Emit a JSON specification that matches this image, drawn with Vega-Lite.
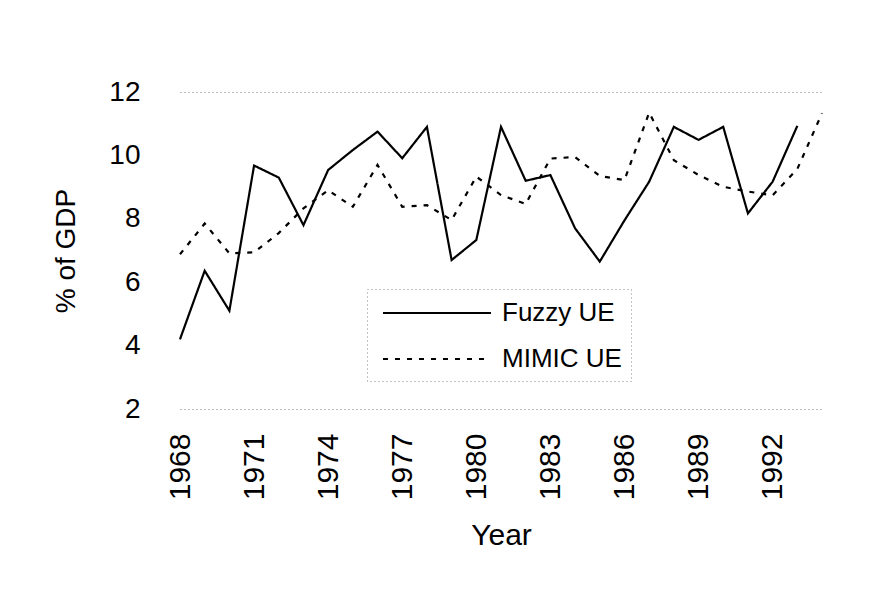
{
  "$schema": "https://vega.github.io/schema/vega-lite/v6.json",
  "width": 642,
  "height": 317,
  "autosize": {"type": "none"},
  "padding": {"left": 180, "top": 92, "right": 74, "bottom": 181},
  "background": "white",
  "config": {
    "view": {"stroke": null},
    "font": "Liberation Sans",
    "axis": {"labelColor": "black", "titleColor": "black", "titleFontWeight": "normal", "labelFont": "Liberation Sans", "titleFont": "Liberation Sans"}
  },
  "data": {
    "values": [
      {"year": 1968, "series": "Fuzzy UE", "value": 4.2},
      {"year": 1969, "series": "Fuzzy UE", "value": 6.36},
      {"year": 1970, "series": "Fuzzy UE", "value": 5.1},
      {"year": 1971, "series": "Fuzzy UE", "value": 9.68},
      {"year": 1972, "series": "Fuzzy UE", "value": 9.3},
      {"year": 1973, "series": "Fuzzy UE", "value": 7.8},
      {"year": 1974, "series": "Fuzzy UE", "value": 9.54},
      {"year": 1975, "series": "Fuzzy UE", "value": 10.17},
      {"year": 1976, "series": "Fuzzy UE", "value": 10.75},
      {"year": 1977, "series": "Fuzzy UE", "value": 9.91},
      {"year": 1978, "series": "Fuzzy UE", "value": 10.9},
      {"year": 1979, "series": "Fuzzy UE", "value": 6.7},
      {"year": 1980, "series": "Fuzzy UE", "value": 7.33},
      {"year": 1981, "series": "Fuzzy UE", "value": 10.9},
      {"year": 1982, "series": "Fuzzy UE", "value": 9.2},
      {"year": 1983, "series": "Fuzzy UE", "value": 9.38},
      {"year": 1984, "series": "Fuzzy UE", "value": 7.7},
      {"year": 1985, "series": "Fuzzy UE", "value": 6.65},
      {"year": 1986, "series": "Fuzzy UE", "value": 7.95},
      {"year": 1987, "series": "Fuzzy UE", "value": 9.17},
      {"year": 1988, "series": "Fuzzy UE", "value": 10.9},
      {"year": 1989, "series": "Fuzzy UE", "value": 10.49},
      {"year": 1990, "series": "Fuzzy UE", "value": 10.9},
      {"year": 1991, "series": "Fuzzy UE", "value": 8.17},
      {"year": 1992, "series": "Fuzzy UE", "value": 9.17},
      {"year": 1993, "series": "Fuzzy UE", "value": 10.93},
      {"year": 1968, "series": "MIMIC UE", "value": 6.88},
      {"year": 1969, "series": "MIMIC UE", "value": 7.85},
      {"year": 1970, "series": "MIMIC UE", "value": 6.91},
      {"year": 1971, "series": "MIMIC UE", "value": 6.94},
      {"year": 1972, "series": "MIMIC UE", "value": 7.55},
      {"year": 1973, "series": "MIMIC UE", "value": 8.33},
      {"year": 1974, "series": "MIMIC UE", "value": 8.9},
      {"year": 1975, "series": "MIMIC UE", "value": 8.38},
      {"year": 1976, "series": "MIMIC UE", "value": 9.7},
      {"year": 1977, "series": "MIMIC UE", "value": 8.38},
      {"year": 1978, "series": "MIMIC UE", "value": 8.43},
      {"year": 1979, "series": "MIMIC UE", "value": 7.96},
      {"year": 1980, "series": "MIMIC UE", "value": 9.33},
      {"year": 1981, "series": "MIMIC UE", "value": 8.75},
      {"year": 1982, "series": "MIMIC UE", "value": 8.47},
      {"year": 1983, "series": "MIMIC UE", "value": 9.9},
      {"year": 1984, "series": "MIMIC UE", "value": 9.95},
      {"year": 1985, "series": "MIMIC UE", "value": 9.35},
      {"year": 1986, "series": "MIMIC UE", "value": 9.22},
      {"year": 1987, "series": "MIMIC UE", "value": 11.35},
      {"year": 1988, "series": "MIMIC UE", "value": 9.85},
      {"year": 1989, "series": "MIMIC UE", "value": 9.38},
      {"year": 1990, "series": "MIMIC UE", "value": 9.01},
      {"year": 1991, "series": "MIMIC UE", "value": 8.86},
      {"year": 1992, "series": "MIMIC UE", "value": 8.74},
      {"year": 1993, "series": "MIMIC UE", "value": 9.57},
      {"year": 1994, "series": "MIMIC UE", "value": 11.33}
    ]
  },
  "mark": {"type": "line", "strokeWidth": 2.2, "color": "black"},
  "encoding": {
    "x": {
      "field": "year",
      "type": "quantitative",
      "scale": {"domain": [1968, 1994], "nice": false, "zero": false},
      "axis": {
        "values": [1968, 1971, 1974, 1977, 1980, 1983, 1986, 1989, 1992],
        "format": "d",
        "labelAngle": -90,
        "labelAlign": "right",
        "labelBaseline": "middle",
        "labelFontSize": 30,
        "labelPadding": 24,
        "domain": false,
        "ticks": false,
        "grid": false,
        "title": "Year",
        "titleFontSize": 30,
        "titlePadding": 21,
        "labelFlush": false,
        "labelOverlap": false
      }
    },
    "y": {
      "field": "value",
      "type": "quantitative",
      "scale": {"domain": [2, 12], "nice": false, "zero": false},
      "axis": {
        "values": [2, 4, 6, 8, 10, 12],
        "labelFontSize": 28,
        "labelPadding": 40,
        "domain": false,
        "ticks": false,
        "grid": true,
        "gridColor": "#777777",
        "gridDash": [1, 3],
        "gridWidth": 1,
        "gridOpacity": {"condition": {"test": "datum.value === 2 || datum.value === 12", "value": 1}, "value": 0},
        "title": "% of GDP",
        "titleFontSize": 28,
        "titlePadding": 28,
        "labelFlush": false
      }
    },
    "strokeDash": {
      "field": "series",
      "type": "nominal",
      "scale": {"domain": ["Fuzzy UE", "MIMIC UE"], "range": [[1, 0], [5, 7]]},
      "legend": {
        "orient": "none",
        "legendX": 187,
        "legendY": 197,
        "title": null,
        "padding": 9,
        "symbolType": "M-4,0H4",
        "symbolSize": 729,
        "symbolOffset": 46,
        "symbolStrokeWidth": 2.2,
        "symbolStrokeColor": "black",
        "symbolFillColor": "transparent",
        "labelOffset": 50,
        "labelFontSize": 26,
        "labelFont": "Liberation Sans",
        "labelColor": "black",
        "rowPadding": 18,
        "strokeColor": "#888888",
        "encode": {"legend": {"update": {"strokeDash": {"value": [1, 3]}}}}
      }
    }
  }
}
